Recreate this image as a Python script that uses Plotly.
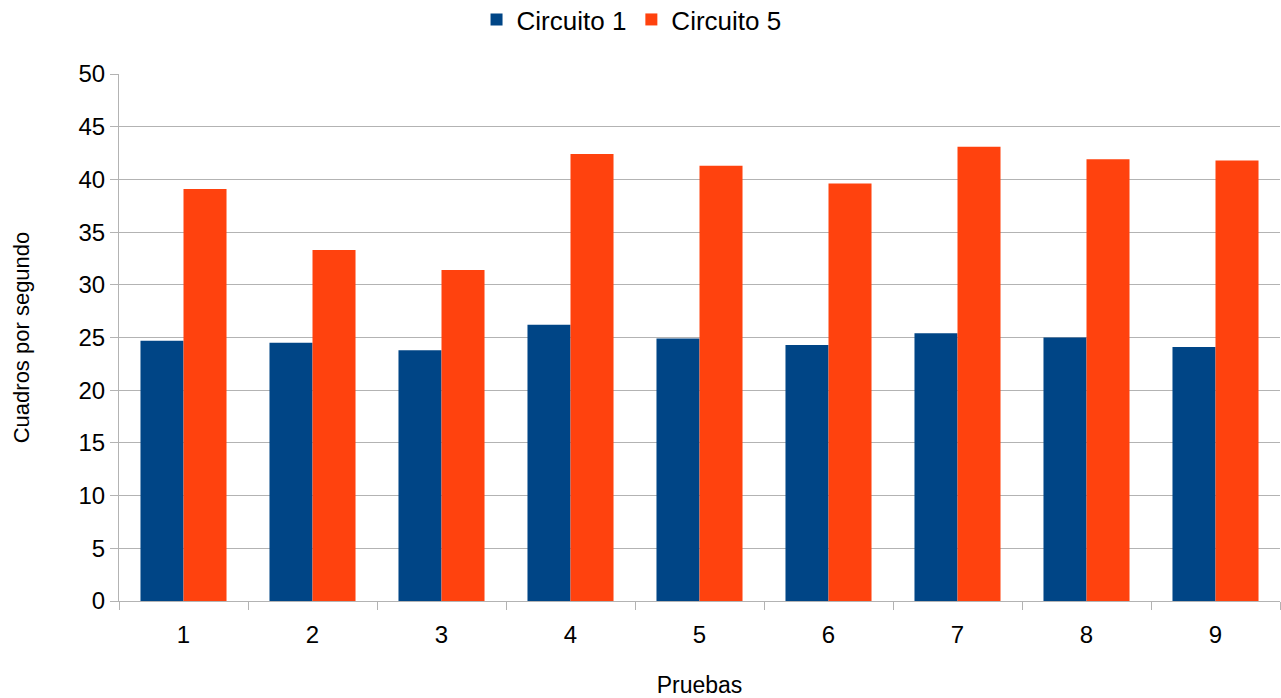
import plotly.graph_objects as go

pruebas = ["1", "2", "3", "4", "5", "6", "7", "8", "9"]
circuito_1 = [24.7, 24.5, 23.8, 26.2, 24.9, 24.3, 25.4, 25.0, 24.1]
circuito_5 = [39.1, 33.3, 31.4, 42.4, 41.3, 39.6, 43.1, 41.9, 41.8]

gris = "#b3b3b3"

fig = go.Figure()
fig.add_trace(go.Bar(x=pruebas, y=circuito_1, name="Circuito 1", marker_color="#004586",
                     marker_line_width=0))
fig.add_trace(go.Bar(x=pruebas, y=circuito_5, name="Circuito 5", marker_color="#ff420e",
                     marker_line_width=0))

fig.update_layout(
    width=1281, height=698,
    barmode="group", bargap=0.333, bargroupgap=0,
    plot_bgcolor="white", paper_bgcolor="white",
    font=dict(family="Liberation Sans, Arial, sans-serif", color="black", size=24),
    margin=dict(l=119, r=1, t=74, b=97, autoexpand=False),
    legend=dict(orientation="h", xref="container", yref="container",
                x=0.493, xanchor="center", y=0.972, yanchor="middle",
                font=dict(size=26), traceorder="normal"),
    xaxis=dict(
        title=dict(text="Pruebas", font=dict(size=23), standoff=34),
        tickson="boundaries", ticks="outside", ticklen=8, tickcolor=gris,
        ticklabelstandoff=12,
        showline=True, linecolor=gris, showgrid=False,
    ),
    yaxis=dict(
        title=dict(text="Cuadros por segundo", font=dict(size=22), standoff=42),
        range=[0, 50], dtick=5, ticks="outside", ticklen=8, tickcolor=gris,
        showgrid=True, gridcolor=gris, showline=True, linecolor=gris,
        zeroline=False,
    ),
)

# quitar el margen por defecto del body para que la figura quede en (0,0)
fig.write_html("out.html", config={"displayModeBar": False},
               post_script="document.body.style.margin='0';")
